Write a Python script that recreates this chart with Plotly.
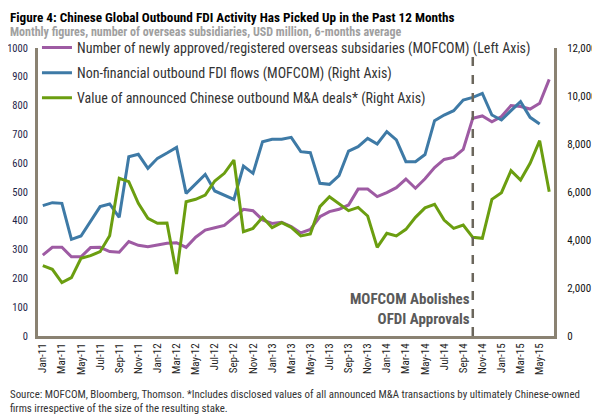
import plotly.graph_objects as go

MONTH_NAMES = ["Jan", "Feb", "Mar", "Apr", "May", "Jun", "Jul", "Aug", "Sep", "Oct", "Nov", "Dec"]
months = [f"{m}-{y}" for y in range(11, 16) for m in MONTH_NAMES][:54]  # Jan-11 .. Jun-15
tick_labels = months[::2]

subsidiaries = [281, 308, 308, 275, 275, 307, 308, 293, 291, 328, 315, 310, 316, 322,
                324, 308, 343, 368, 376, 384, 412, 440, 435, 403, 391, 395, 380, 358,
                370, 414, 432, 440, 455, 510, 510, 484, 498, 515, 545, 513,
                546, 585, 613, 620, 648, 756, 764, 744, 762, 800, 797, 788, 808, 891]

fdi_flows = [5430, 5555, 5528, 4028, 4167, 4792, 5389, 5500, 4944, 7472, 7570, 6986, 7403, 7625,
             7861, 5945, 6333, 6736, 6042, 5875, 5695, 7083, 6778, 8097, 8195, 8195, 8278, 7681,
             7639, 6361, 6320, 6681, 7708, 7889, 8236, 8000, 8514, 8167, 7264, 7264,
             7560, 8972, 9208, 9389, 9833, 9945, 10111, 9208, 9000, 9389, 9764, 9111, 8833, None]

ma_deals = [2930, 2778, 2222, 2430, 3236, 3347, 3514, 4181, 6570, 6431, 5528, 4903, 4694, 4708,
            2583, 5597, 5695, 5875, 6458, 6778, 7333, 4347, 4486, 4944, 4514, 4722, 4528, 4167,
            4250, 5389, 5805, 5528, 5222, 5361, 5000, 3695, 4278, 4167, 4444, 4944,
            5340, 5486, 4833, 4486, 4625, 4111, 4069, 5695, 5972, 6889, 6500, 7195, 8139, 6014]

event_month = "Oct-14"

FONT = "Liberation Sans Narrow, Arial Narrow, Roboto Condensed, Liberation Sans, sans-serif"
AXIS_COLOR = "#8a8272"

fig = go.Figure()
fig.add_trace(go.Scatter(
    x=months, y=subsidiaries, mode="lines", yaxis="y", legendgroup="a",
    name="Number of newly approved/registered overseas subsidaries (MOFCOM) (Left Axis)",
    line=dict(color="#9e5ba3", width=3)))
fig.add_trace(go.Scatter(
    x=months, y=fdi_flows, mode="lines", yaxis="y2", legendgroup="b",
    name="Non-financial outbound FDI flows (MOFCOM) (Right Axis)",
    line=dict(color="#3e7aa6", width=3)))
fig.add_trace(go.Scatter(
    x=months, y=ma_deals, mode="lines", yaxis="y2", legendgroup="c",
    name="Value of announced Chinese outbound M&A deals* (Right Axis)",
    line=dict(color="#6b9e10", width=3)))

fig.add_shape(type="line", xref="x", yref="paper", x0=event_month, x1=event_month,
              y0=0, y1=1.0, line=dict(color="#6b665c", width=2.5, dash="dash"))

fig.add_annotation(xref="x", yref="paper", x=event_month, y=0.021, xanchor="right", yanchor="bottom",
                   xshift=-1, align="right", showarrow=False,
                   text="<b>MOFCOM Abolishes<br>OFDI Approvals</b>",
                   font=dict(family=FONT, size=15, color="#5a5a5a"))

fig.add_annotation(xref="paper", yref="paper", x=-0.058, y=1.139, xanchor="left", yanchor="top",
                   showarrow=False, align="left",
                   text="<b>Figure 4: Chinese Global Outbound FDI Activity Has Picked Up in the Past 12 Months</b>",
                   font=dict(family=FONT, size=13.2, color="#000000"))
fig.add_annotation(xref="paper", yref="paper", x=-0.058, y=1.054, xanchor="left", yanchor="middle",
                   showarrow=False, align="left",
                   text="<b>Monthly figures, number of overseas subsidiaries, USD million, 6-months average</b>",
                   font=dict(family=FONT, size=12, color="#a0a0a0"))
fig.add_annotation(xref="paper", yref="paper", x=-0.058, y=-0.172, xanchor="left", yanchor="top",
                   showarrow=False, align="left",
                   text=("Source: MOFCOM, Bloomberg, Thomson. *Includes disclosed values of all announced M&A "
                         "transactions by ultimately Chinese-owned<br>firms irrespective of the size of the resulting stake."),
                   font=dict(family=FONT, size=10.9, color="#333333"))

fig.update_layout(
    width=592, height=408,
    margin=dict(l=30, r=46, t=40, b=80, autoexpand=False),
    paper_bgcolor="white", plot_bgcolor="white",
    font=dict(family=FONT, size=11, color="#222222"),
    showlegend=True,
    legend=dict(x=-0.002, y=1.056, xanchor="left", yanchor="top", bgcolor="rgba(0,0,0,0)",
                font=dict(family=FONT, size=14, color="#333333"),
                traceorder="grouped", tracegroupgap=4, itemwidth=30),
    xaxis=dict(type="category", range=[-0.5, 53.5], tickvals=tick_labels, ticktext=tick_labels,
               tickangle=-90, showgrid=False, showline=True, linecolor=AXIS_COLOR, linewidth=3,
               ticks="", tickfont=dict(family=FONT, size=11, color="#222222"), zeroline=False),
    yaxis=dict(range=[0, 1000], dtick=100, showgrid=False, showline=True, linecolor=AXIS_COLOR,
               linewidth=3, ticks="", ticklabelstandoff=5, zeroline=False,
               tickfont=dict(family=FONT, size=10.5, color="#1e2448")),
    yaxis2=dict(range=[0, 12000], dtick=2000, overlaying="y", side="right", showgrid=False,
                showline=True, linecolor=AXIS_COLOR, linewidth=3, ticks="", tickformat=",",
                ticklabelstandoff=8, zeroline=False,
                tickfont=dict(family=FONT, size=11, color="#111111")),
)

fig.write_html("out.html")
